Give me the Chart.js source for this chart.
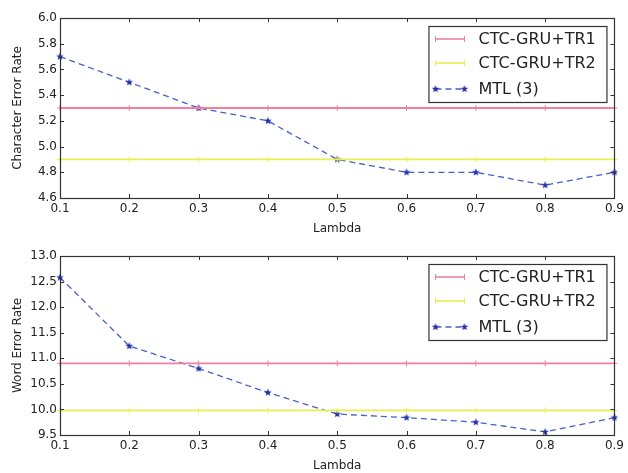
<!DOCTYPE html>
<html>
<head>
<meta charset="utf-8">
<script src="https://cdn.jsdelivr.net/npm/chart.js@4.4.0/dist/chart.umd.min.js"></script>
<style>
  html, body { margin: 0; padding: 0; background: #fff; }
  .box { position: relative; width: 628px; }
</style>
</head>
<body>
<div class="box" style="height:236px"><canvas id="cer"></canvas></div>
<div class="box" style="height:237px"><canvas id="wer"></canvas></div>
<script>
const lambdas = ["0.1", "0.2", "0.3", "0.4", "0.5", "0.6", "0.7", "0.8", "0.9"];

const cerTr1 = [5.3, 5.3, 5.3, 5.3, 5.3, 5.3, 5.3, 5.3, 5.3];
const cerTr2 = [4.9, 4.9, 4.9, 4.9, 4.9, 4.9, 4.9, 4.9, 4.9];
const cerMtl = [5.7, 5.5, 5.3, 5.2, 4.9, 4.8, 4.8, 4.7, 4.8];

const werTr1 = [10.9, 10.9, 10.9, 10.9, 10.9, 10.9, 10.9, 10.9, 10.9];
const werTr2 = [9.98, 9.98, 9.98, 9.98, 9.98, 9.98, 9.98, 9.98, 9.98];
const werMtl = [12.58, 11.24, 10.8, 10.33, 9.91, 9.84, 9.75, 9.56, 9.84];

const seriesNames = ["CTC-GRU+TR1", "CTC-GRU+TR2", "MTL (3)"];

const pink = "#f080a0";
const yellow = "#e6f050";
const blue = "#4660c8";
const starBlue = "#1f2fa8";
const font = "'DejaVu Sans', sans-serif";

// filled 5 point star like matplotlib '*'
function makeStar(r, color) {
    const c = document.createElement("canvas");
    c.width = r * 2 + 2;
    c.height = r * 2 + 2;
    const g = c.getContext("2d");
    g.fillStyle = color;
    g.beginPath();
    for (let i = 0; i < 10; i++) {
        const rr = i % 2 === 0 ? r : r * 0.42;
        const a = -Math.PI / 2 + i * Math.PI / 5;
        const px = r + 1 + rr * Math.cos(a);
        const py = r + 1 + rr * Math.sin(a);
        if (i === 0) g.moveTo(px, py); else g.lineTo(px, py);
    }
    g.closePath();
    g.fill();
    return c;
}
const star = makeStar(4, starBlue);

// frame + inward ticks on all four sides
const framePlugin = {
    id: "frame",
    afterDatasetsDraw(chart) {
        const ctx = chart.ctx;
        const a = chart.chartArea;
        const xs = chart.scales.x, ys = chart.scales.y;
        ctx.save();
        ctx.strokeStyle = "#333";
        ctx.lineWidth = 1;
        ctx.beginPath();
        xs.ticks.forEach((t, i) => {
            const px = Math.round(xs.getPixelForTick(i)) + 0.5;
            ctx.moveTo(px, a.bottom); ctx.lineTo(px, a.bottom - 4);
            ctx.moveTo(px, a.top); ctx.lineTo(px, a.top + 4);
        });
        ys.ticks.forEach(t => {
            const py = Math.round(ys.getPixelForValue(t.value)) + 0.5;
            ctx.moveTo(a.left, py); ctx.lineTo(a.left + 4, py);
            ctx.moveTo(a.right, py); ctx.lineTo(a.right - 4, py);
        });
        ctx.stroke();
        ctx.lineWidth = 1.2;
        ctx.strokeRect(Math.round(a.left) + 0.5, Math.round(a.top) + 0.5,
            Math.round(a.right - a.left), Math.round(a.bottom - a.top));
        ctx.restore();
    }
};

// legend box inside the plot, top right
const boxLegend = {
    id: "boxLegend",
    afterDraw(chart) {
        const ctx = chart.ctx;
        const a = chart.chartArea;
        const w = 178, h = 76;
        const left = a.right - 8 - w, top = a.top + 8;
        ctx.save();
        ctx.fillStyle = "#fff";
        ctx.fillRect(left, top, w, h);
        ctx.strokeStyle = "#333";
        ctx.lineWidth = 1.2;
        ctx.strokeRect(left + 0.5, top + 0.5, w, h);
        const rows = [13, 37, 63];
        const colors = [pink, yellow, blue];
        ctx.font = "16px " + font;
        ctx.textBaseline = "middle";
        rows.forEach((ry, i) => {
            const y = top + ry;
            const x0 = left + 7, x1 = left + 36;
            ctx.strokeStyle = colors[i];
            ctx.lineWidth = 1.6;
            ctx.setLineDash(i === 2 ? [6, 4] : []);
            ctx.beginPath();
            ctx.moveTo(x0, y); ctx.lineTo(x1, y);
            ctx.stroke();
            ctx.setLineDash([]);
            if (i < 2) {
                ctx.lineWidth = 1;
                ctx.beginPath();
                [x0, x1].forEach(x => {
                    ctx.moveTo(x, y - 3); ctx.lineTo(x, y + 3);
                });
                ctx.stroke();
            } else {
                [x0, x1].forEach(x => ctx.drawImage(star, x - star.width / 2, y - star.height / 2));
            }
            ctx.fillStyle = "#222";
            ctx.fillText(seriesNames[i], left + 50, y + 1);
        });
        ctx.restore();
    }
};

function makeChart(id, tr1, tr2, mtl, yTitle, yMin, yMax, yStep, plotTop, plotBottomGap) {
    return new Chart(document.getElementById(id), {
        type: "line",
        data: {
            labels: lambdas,
            datasets: [
                { label: seriesNames[0], data: tr1, borderColor: pink, borderWidth: 1.8,
                  pointStyle: "cross", pointRadius: 3, pointBorderColor: pink, pointBorderWidth: 1 },
                { label: seriesNames[1], data: tr2, borderColor: yellow, borderWidth: 1.8,
                  pointStyle: "cross", pointRadius: 3, pointBorderColor: yellow, pointBorderWidth: 1 },
                { label: seriesNames[2], data: mtl, borderColor: blue, borderWidth: 1.3, borderDash: [6, 4],
                  pointStyle: star, pointRadius: 4 }
            ]
        },
        options: {
            responsive: true,
            maintainAspectRatio: false,
            animation: false,
            layout: { padding: { top: plotTop, right: 11, left: 0, bottom: 0 } },
            plugins: { legend: { display: false }, tooltip: { enabled: false } },
            scales: {
                x: {
                    offset: false,
                    grid: { display: false, drawTicks: false },
                    border: { display: false },
                    ticks: { color: "#222", font: { family: font, size: 12 }, padding: 4, maxRotation: 0 },
                    title: { display: true, text: "Lambda", color: "#222",
                             font: { family: font, size: 12 }, padding: { top: 0, bottom: 0 } },
                    afterFit(s) { s.height = plotBottomGap; }
                },
                y: {
                    min: yMin, max: yMax,
                    grid: { display: false, drawTicks: false },
                    border: { display: false },
                    ticks: { stepSize: yStep, color: "#222", font: { family: font, size: 12 }, padding: 3,
                             callback: v => Number(v).toFixed(1) },
                    title: { display: true, text: yTitle, color: "#222",
                             font: { family: font, size: 12 }, padding: { top: 11, bottom: 0 } },
                    afterFit(s) { s.width = 60; }
                }
            }
        },
        plugins: [framePlugin, boxLegend]
    });
}

makeChart("cer", cerTr1, cerTr2, cerMtl, "Character Error Rate", 4.6, 6.0, 0.2, 18, 38);
makeChart("wer", werTr1, werTr2, werMtl, "Word Error Rate", 9.5, 13.0, 0.5, 20, 38);
</script>
</body>
</html>
